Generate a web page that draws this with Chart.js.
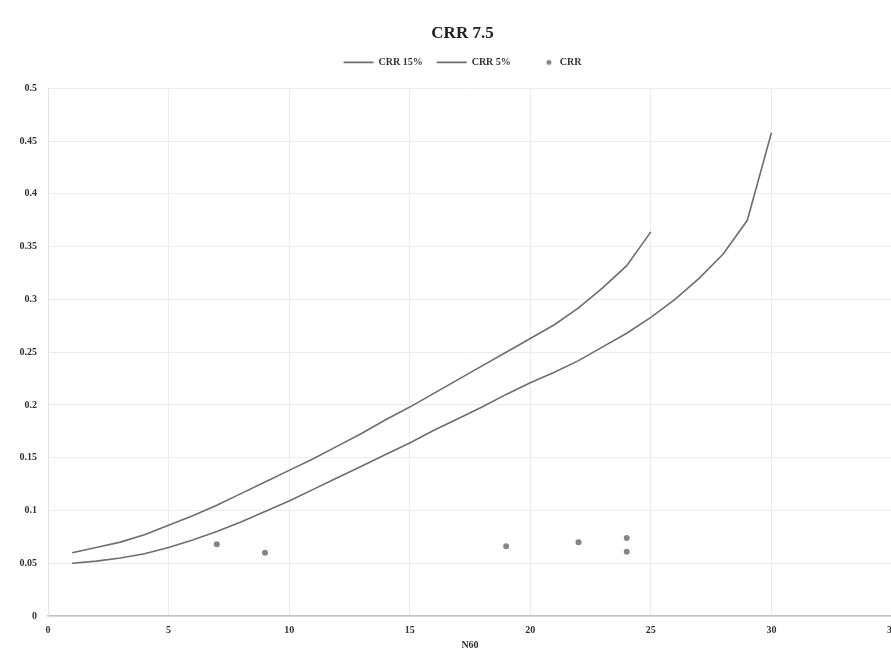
<!DOCTYPE html>
<html>
<head>
<meta charset="utf-8">
<script src="https://cdn.jsdelivr.net/npm/chart.js@4.4.0/dist/chart.umd.min.js"></script>
<style>
  body { margin: 0; background: #fff; overflow: hidden; }
  #wrap { width: 905px; height: 666px; }
</style>
</head>
<body>
<div id="wrap"><canvas id="chart"></canvas></div>
<script>
// values
const n15 = [1, 2, 3, 4, 5, 6, 7, 8, 9, 10, 11, 12, 13, 14, 15, 16, 17, 18, 19, 20, 21, 22, 23, 24, 25];
const crr15 = [0.060, 0.065, 0.070, 0.077, 0.086, 0.095, 0.105, 0.116, 0.127, 0.138, 0.149, 0.161, 0.173,
  0.186, 0.198, 0.211, 0.224, 0.237, 0.250, 0.263, 0.276, 0.292, 0.311, 0.332, 0.364];

const n5 = [1, 2, 3, 4, 5, 6, 7, 8, 9, 10, 11, 12, 13, 14, 15, 16, 17, 18, 19, 20, 21, 22, 23, 24, 25, 26, 27, 28, 29, 30];
const crr5 = [0.050, 0.052, 0.055, 0.059, 0.065, 0.072, 0.080, 0.089, 0.099, 0.109, 0.120, 0.131, 0.142, 0.153,
  0.164, 0.176, 0.187, 0.198, 0.210, 0.221, 0.231, 0.242, 0.255, 0.268, 0.283, 0.300, 0.320, 0.343, 0.375, 0.458];

const nField = [7, 9, 19, 22, 24, 24];
const crrField = [0.068, 0.060, 0.066, 0.070, 0.074, 0.061];

const xTicks = [0, 5, 10, 15, 20, 25, 30, 35];
const yTicks = [0, 0.05, 0.1, 0.15, 0.2, 0.25, 0.3, 0.35, 0.4, 0.45, 0.5];

const labels = ["CRR 15%", "CRR 5%", "CRR"];

const toPoints = (xs, ys) => xs.map((x, i) => ({ x: x, y: ys[i] }));

// small dot for the scatter legend item
const dot = document.createElement("canvas");
dot.width = 30; dot.height = 8;
const dctx = dot.getContext("2d");
dctx.fillStyle = "#858585";
dctx.beginPath();
dctx.arc(24, 4, 2.5, 0, Math.PI * 2);
dctx.fill();

// a bit more room between the legend and the plot
const legendGap = {
  id: "legendGap",
  beforeLayout(chart) {
    const lg = chart.legend;
    if (lg && !lg._gapPatched) {
      const fit = lg.fit;
      lg.fit = function () { fit.call(this); this.height += 11; };
      lg._gapPatched = true;
    }
  }
};

const serif = "'Liberation Serif', 'DejaVu Serif', serif";
const lineColor = "#6e6e6e";

new Chart(document.getElementById("chart"), {
  type: "scatter",
  data: {
    datasets: [
      {
        label: labels[0],
        data: toPoints(n15, crr15),
        showLine: true,
        borderColor: lineColor,
        borderWidth: 1.6,
        pointRadius: 0,
        tension: 0
      },
      {
        label: labels[1],
        data: toPoints(n5, crr5),
        showLine: true,
        borderColor: lineColor,
        borderWidth: 1.6,
        pointRadius: 0,
        tension: 0
      },
      {
        label: labels[2],
        data: toPoints(nField, crrField),
        showLine: false,
        pointRadius: 3,
        pointBackgroundColor: "#858585",
        pointBorderColor: "#858585",
        pointBorderWidth: 0
      }
    ]
  },
  plugins: [legendGap],
  options: {
    responsive: true,
    maintainAspectRatio: false,
    animation: false,
    layout: { padding: { left: 20, right: 0, top: 0, bottom: 15 } },
    plugins: {
      title: {
        display: true,
        text: "CRR 7.5",
        color: "#222",
        font: { family: serif, size: 17, weight: "bold" },
        padding: { top: 23, bottom: 0 }
      },
      legend: {
        display: true,
        labels: {
          usePointStyle: true,
          pointStyleWidth: 30,
          boxHeight: 8,
          padding: 14,
          color: "#333",
          font: { family: serif, size: 10, weight: "bold" },
          generateLabels: (chart) => chart.data.datasets.map((ds, i) => ({
            text: ds.label,
            datasetIndex: i,
            fillStyle: "#858585",
            strokeStyle: lineColor,
            lineWidth: 1.6,
            pointStyle: i === 2 ? dot : "line",
            fontColor: "#333",
            hidden: false
          }))
        }
      },
      tooltip: { enabled: false }
    },
    scales: {
      x: {
        type: "linear",
        min: 0,
        max: 35,
        afterBuildTicks: (scale) => { scale.ticks = xTicks.map(v => ({ value: v })); },
        afterFit: (scale) => { scale.height = 35; },
        grid: { color: "#ececec", drawTicks: false },
        border: { color: "#c4c4c4", width: 1.5 },
        ticks: {
          padding: 8,
          color: "#333",
          font: { family: serif, size: 10, weight: "bold" }
        },
        title: {
          display: true,
          text: "N60",
          color: "#333",
          font: { family: serif, size: 10, weight: "bold" },
          padding: { top: 3, bottom: 0 }
        }
      },
      y: {
        type: "linear",
        min: 0,
        max: 0.5,
        afterBuildTicks: (scale) => { scale.ticks = yTicks.map(v => ({ value: v })); },
        afterFit: (scale) => { scale.width = 28; },
        grid: { color: "#ececec", drawTicks: false },
        border: { color: "#e2e2e2" },
        ticks: {
          padding: 11,
          color: "#333",
          font: { family: serif, size: 10, weight: "bold" },
          callback: (v) => String(+v.toFixed(2))
        }
      }
    }
  }
});
</script>
</body>
</html>
